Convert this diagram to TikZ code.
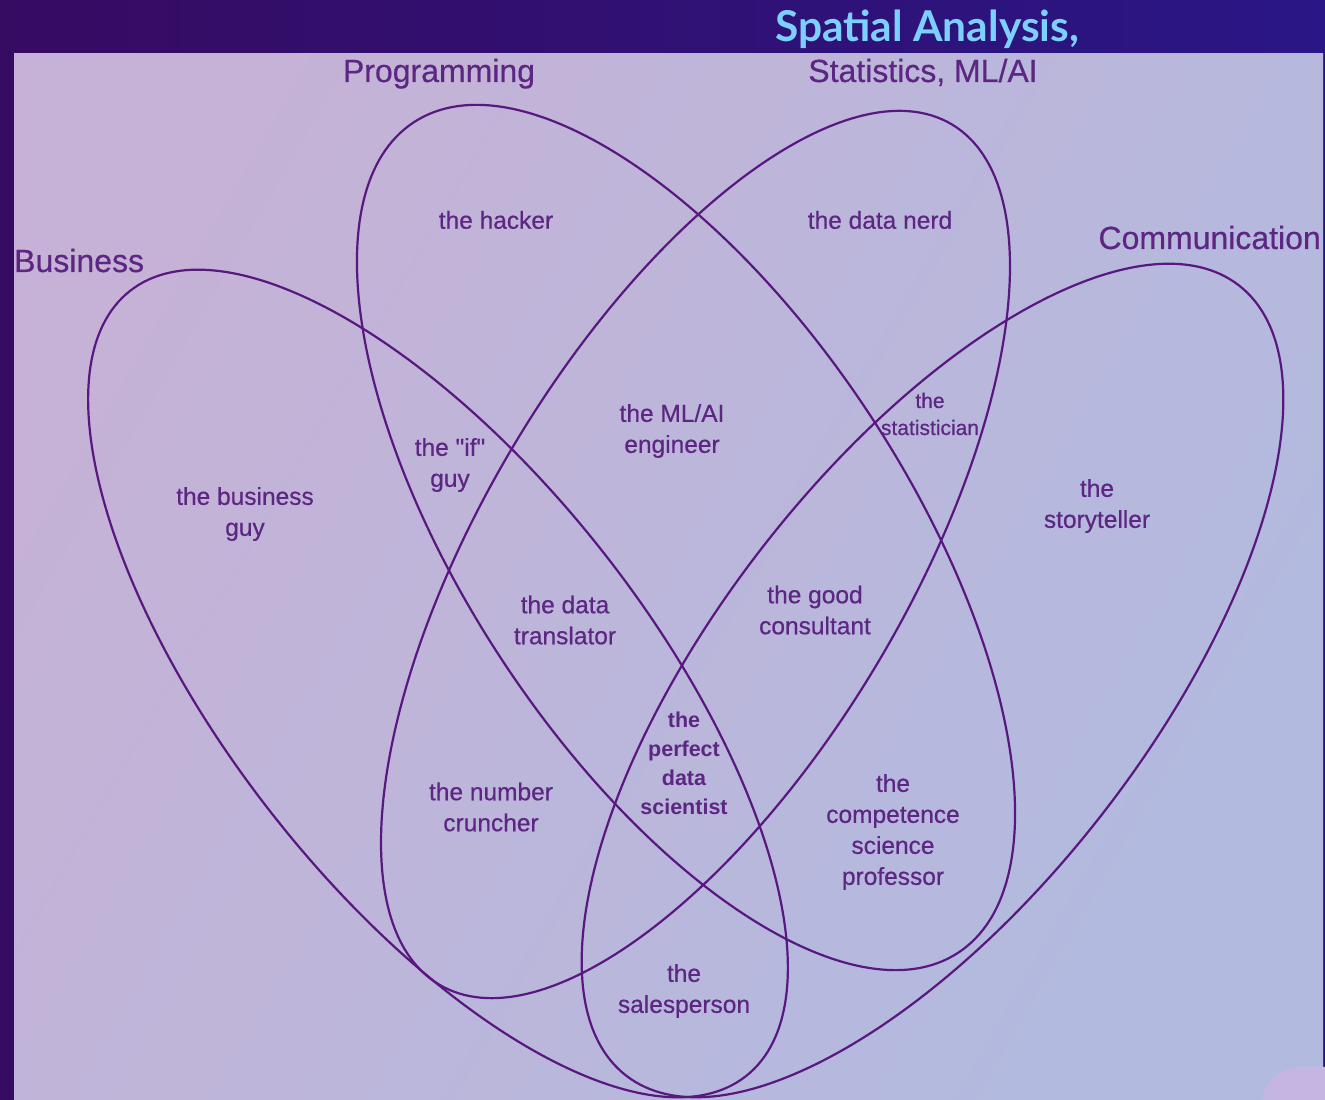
\documentclass[tikz,border=0pt]{standalone}
\usepackage{fontspec}
\setmainfont{Liberation Sans}
\newfontfamily\labelfont[FakeBold=0.5]{Liberation Sans}
\newfontfamily\headfont{Lato}

\definecolor{bgdeep}{HTML}{360B62}
\definecolor{bgmid}{HTML}{440E76}
\definecolor{bgblue}{HTML}{2A1686}
\definecolor{panelpink}{HTML}{C5B2D6}
\definecolor{panelblue}{HTML}{B2BADF}
\definecolor{ink}{HTML}{581880}
\definecolor{labelink}{HTML}{5C2682}
\definecolor{skyblue}{HTML}{7DCFFD}
\definecolor{cornerglow}{HTML}{C5B5E2}

\begin{document}
\begin{tikzpicture}[x=1pt,y=1pt,
  venn/.style={draw=ink, line width=2.2pt},
  region/.style={text=labelink, font=\labelfont\fontsize{24.5}{31}\selectfont, align=center, inner sep=0pt},
  smallregion/.style={region, font=\labelfont\fontsize{21}{27}\selectfont},
  bestregion/.style={region, font=\bfseries\fontsize{21.5}{29}\selectfont},
  setname/.style={text=labelink, font=\labelfont\fontsize{32}{36}\selectfont, inner sep=0pt},
]
\useasboundingbox (0,0) rectangle (1325,1100);

% backdrop and light panel
\shade[left color=bgdeep, middle color=bgmid, right color=bgblue] (0,0) rectangle (1325,1100);
\shade[top color=panelpink, bottom color=panelblue, shading angle=60] (14,0) rectangle (1323,1046);
\begin{scope}
  \clip (0,0) rectangle (1325,1100);
  \fill[cornerglow, rounded corners=38pt] (1262,-60) rectangle (1400,33);
\end{scope}

% the four skill sets
\draw[venn, rotate around={-51.9:(438,416.5)}] (438,416.5) ellipse [x radius=499, y radius=211];
\draw[venn, rotate around={52.2:(932.5,419.5)}] (932.5,419.5) ellipse [x radius=500, y radius=216];
\draw[venn, rotate around={-56.75:(686,562.5)}] (686,562.5) ellipse [x radius=496.5, y radius=221];
\draw[venn, rotate around={59.2:(695.5,545.5)}] (695.5,545.5) ellipse [x radius=500.7, y radius=212];

% set names
\node[text=skyblue, font=\headfont\bfseries\fontsize{42.5}{44}\selectfont, inner sep=0pt, anchor=base] (spatial) at (927,1058) {Spatial Analysis,};
\node[setname, anchor=base] (prog) at (439,1018) {Programming};
\node[setname, anchor=base] (stat) at (923,1018) {Statistics, ML/AI};
\node[setname, anchor=base west] (busi) at (14,828) {Business};
\node[setname, anchor=base east] (comm) at (1321,851) {Communication};

% roles in each region
\node[region] (hacker) at (496,880) {the hacker};
\node[region] (nerd) at (880,880) {the data nerd};
\node[region] (bizguy) at (245,586) {the business\\guy};
\node[region] (ifguy) at (450,635) {the "if"\\guy};
\node[region] (mlai) at (672,669) {the ML/AI\\engineer};
\node[smallregion] (statn) at (930,686) {the\\statistician};
\node[region] (story) at (1097,594) {the\\storyteller};
\node[region] (transl) at (565,480) {the data\\translator};
\node[region] (consult) at (815,490) {the good\\consultant};
\node[bestregion] (perfect) at (684,337) {the\\perfect\\data\\scientist};
\node[region] (cruncher) at (491,293) {the number\\cruncher};
\node[region] (prof) at (893,268) {the\\competence\\science\\professor};
\node[region] (sales) at (684,109) {the\\salesperson};
\end{tikzpicture}
\end{document}
